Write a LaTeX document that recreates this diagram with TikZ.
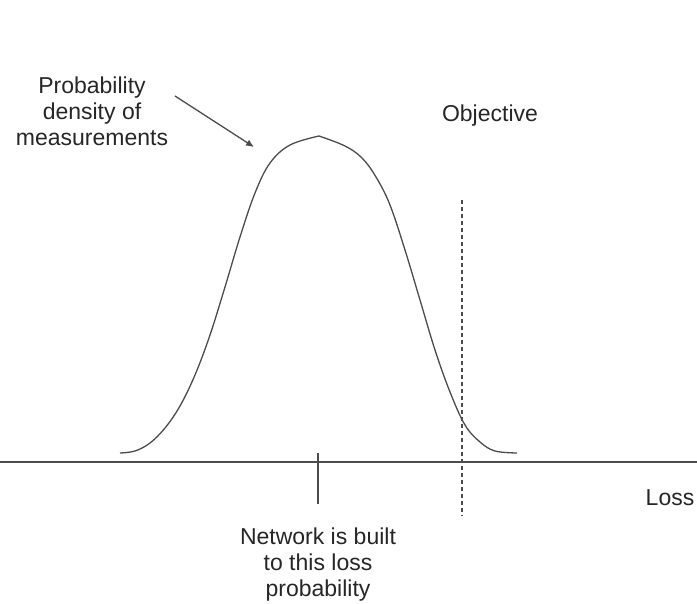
\documentclass[tikz,border=0pt]{standalone}
\usepackage{fontspec}
\setmainfont{Liberation Sans}
\usetikzlibrary{arrows.meta}
\begin{document}
\begin{tikzpicture}[x=1pt,y=-1pt,
  lbl/.style={align=center,font=\fontsize{23}{26}\selectfont,text=black!85,inner sep=0pt},
  ln/.style={draw=black!70,line width=1.3pt}]
\useasboundingbox (0,0) rectangle (697,604);
% axis
\coordinate (axL) at (0,462);
\coordinate (axR) at (697,462);
\draw[ln] (axL) -- (axR);
% density curve
\draw[ln,line join=round] plot[smooth,tension=0.6] coordinates {
 (120,453) (135,451) (150,443) (165,428) (180,406) (195,375) (210,335) (225,287) (240,237) (255,193) (270,163) (290,145) (319,136)};
\draw[ln,line join=round] plot[smooth,tension=0.6] coordinates {
 (319,136) (345,146) (362,158) (376,177) (390,205) (405,250) (420,300) (435,350) (450,392) (465,425) (480,442) (495,451) (517,453)};
% tick
\coordinate (tkT) at (318,453);
\coordinate (tkB) at (318,504);
\draw[ln] (tkT) -- (tkB);
% objective dashed
\coordinate (obT) at (462,200);
\coordinate (obB) at (462,516);
\draw[draw=black!70,line width=1.2pt,dash pattern=on 4pt off 3pt] (obT) -- (obB);
% labels
\node[lbl] (pd) at (92,111) {Probability\\density of\\measurements};
\node[lbl] (obj) at (490,116) {Objective};
\node[lbl] (loss) at (670,498) {Loss};
\node[lbl] (nb) at (318,565) {Network is built\\to this loss\\probability};
% arrow
\coordinate (arS) at (175,96);
\coordinate (arE) at (254,147);
\draw[ln,-{Latex[length=8pt,width=7pt]}] (arS) -- (arE);
\end{tikzpicture}
\end{document}
